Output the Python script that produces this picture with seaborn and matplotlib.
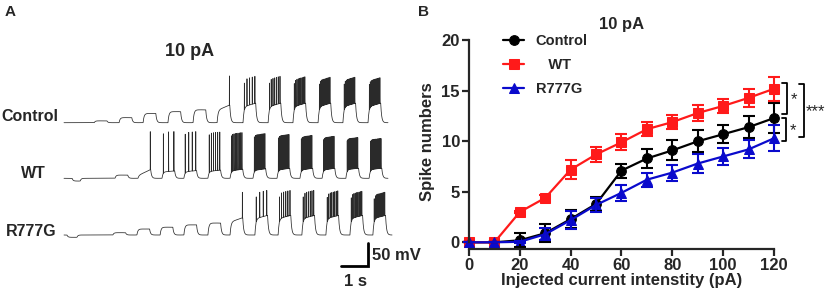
import numpy as np
import pandas as pd
import seaborn as sns
import matplotlib.pyplot as plt

# ---- panel B data (spike numbers vs injected current) ----
current = [0, 10, 20, 30, 40, 50, 60, 70, 80, 90, 100, 110, 120]
ctrl_mean = [0, 0, 0.2, 0.9, 2.3, 3.8, 7.1, 8.3, 9.1, 10.0, 10.7, 11.4, 12.3]
ctrl_sem = [0, 0, 0.7, 0.9, 0.9, 0.7, 0.7, 0.9, 1.0, 1.1, 0.9, 1.1, 1.5]
wt_mean = [0, 0, 3.0, 4.4, 7.2, 8.7, 9.9, 11.2, 11.9, 12.8, 13.5, 14.3, 15.2]
wt_sem = [0, 0, 0.1, 0.3, 0.9, 0.7, 0.8, 0.7, 0.7, 0.8, 0.7, 0.9, 1.2]
mut_mean = [0, 0, 0.05, 0.8, 2.2, 3.7, 4.9, 6.2, 6.9, 7.8, 8.5, 9.2, 10.3]
mut_sem = [0, 0, 0.1, 0.6, 0.9, 0.7, 0.8, 0.7, 0.8, 0.9, 0.8, 0.9, 1.3]

# ---- panel A data (example traces, 10 pA steps) ----
# step onsets (s), level at step start / end (mV above rest), spike count, spike peak (mV)
ctrl_onset = [1.12, 2.04, 2.93, 3.85, 4.78, 5.67, 6.63, 7.56, 8.48, 9.41, 10.33, 11.26]
ctrl_lvl0 = [4, 11, 20, 24, 28, 28, 35, 35, 35, 35, 35, 35]
ctrl_lvl1 = [4, 11, 20, 24, 28, 39, 43, 43, 43, 43, 43, 43]
ctrl_spk = [0, 0, 0, 0, 0, 1, 5, 7, 9, 10, 11, 12]
ctrl_peak = [0, 0, 0, 0, 0, 103, 102, 102, 101, 100, 100, 99]

wt_onset = [1.89, 2.74, 3.63, 4.44, 5.33, 6.15, 7.00, 7.89, 8.74, 9.56, 10.44, 11.30]
wt_lvl0 = [7, 7, 14, 14, 15, 16, 17, 18, 18, 18, 19, 19]
wt_lvl1 = [7, 20, 16, 17, 18, 20, 21, 22, 22, 22, 22, 22]
wt_spk = [0, 1, 3, 4, 6, 9, 10, 11, 12, 13, 14, 15]
wt_peak = [0, 103, 102, 102, 101, 100, 98, 96, 94, 92, 89, 87]

mut_onset = [1.81, 2.70, 3.56, 4.44, 5.33, 6.15, 7.07, 7.93, 8.81, 9.70, 10.59, 11.44]
mut_lvl0 = [5, 13, 17, 22, 26, 29, 36, 36, 36, 36, 36, 36]
mut_lvl1 = [5, 13, 17, 22, 26, 38, 43, 43, 43, 43, 43, 43]
mut_spk = [0, 0, 0, 0, 0, 1, 4, 6, 7, 8, 9, 10]
mut_peak = [0, 0, 0, 0, 0, 94, 98, 98, 98, 97, 96, 94]

# small hyperpolarising pre-pulse: (start s, end s, mV)
ctrl_pre = (0.0, 0.0, 0)
wt_pre = (0.30, 0.60, -6)
mut_pre = (0.11, 0.48, -5)

step_dur = 0.47
trace_end = [12.0, 12.0, 12.15]


def make_trace(onset, lvl0, lvl1, spk, peak, pre, t_end, dt=0.00025, tau=0.035):
    t = np.arange(0, t_end, dt)
    cmd = np.zeros_like(t)
    m = (t >= pre[0]) & (t < pre[1])
    cmd[m] = pre[2]
    for on, a, b in zip(onset, lvl0, lvl1):
        m = (t >= on) & (t < on + step_dur)
        cmd[m] = a + (b - a) * (t[m] - on) / step_dur
    v = np.zeros_like(t)
    k = dt / tau
    for i in range(1, len(t)):
        v[i] = v[i - 1] + k * (cmd[i] - v[i - 1])
    for on, n, pk, b in zip(onset, spk, peak, lvl1):
        if n == 0:
            continue
        if n == 1:
            times = [on + step_dur * 0.97]
        else:
            times = np.linspace(on + 0.05, on + step_dur - 0.03, n)
        for ts in times:
            v += (pk - b) * np.exp(-0.5 * ((t - ts) / 0.0012) ** 2)
    return t, v


fig = plt.figure(figsize=(8.29, 2.93), dpi=100)
W, H = 829, 293
sns.set_style("ticks")
plt.rcParams['font.family'] = ['Liberation Sans', 'DejaVu Sans']


def fx(px):
    return px / W


def fy(py):
    return 1 - py / H


# ---------- panel A ----------
axA = fig.add_axes([fx(40), fy(290), fx(420) - fx(40), fy(55) - fy(290)])
pxs, mvpx = 27.0, 50 / 23.0
axA.set_xlim((40 - 64) / pxs, (420 - 64) / pxs)
axA.set_ylim((122.7 - 290) * mvpx, (122.7 - 55) * mvpx)
axA.axis('off')

traces = [
    (ctrl_onset, ctrl_lvl0, ctrl_lvl1, ctrl_spk, ctrl_peak, ctrl_pre, trace_end[0], 0.0),
    (wt_onset, wt_lvl0, wt_lvl1, wt_spk, wt_peak, wt_pre, trace_end[1], -(178.3 - 122.7) * mvpx),
    (mut_onset, mut_lvl0, mut_lvl1, mut_spk, mut_peak, mut_pre, trace_end[2], -(235 - 122.7) * mvpx),
]
for on, l0, l1, sp, pk, pre, te, off in traces:
    t, v = make_trace(on, l0, l1, sp, pk, pre, te)
    sns.lineplot(x=t, y=v + off, ax=axA, color='#2a2a2a', lw=0.55, estimator=None, sort=False)

# scale bar
sb_t = (368 - 64) / pxs
sb_top = (122.7 - 243) * mvpx
sb_bot = sb_top - 50
axA.plot([sb_t - 1, sb_t, sb_t], [sb_bot, sb_bot, sb_top], color='black', lw=2, clip_on=False,
         solid_joinstyle='miter')
fig.text(fx(372), fy(255), '50 mV', fontsize=12, fontweight='bold', va='center', ha='left')
fig.text(fx(356), fy(281), '1 s', fontsize=12, fontweight='bold', va='center', ha='center')

fig.text(fx(58), fy(117), 'Control', fontsize=11.5, fontweight='bold', ha='right', va='center')
fig.text(fx(46), fy(174), 'WT', fontsize=11.5, fontweight='bold', ha='right', va='center')
fig.text(fx(57), fy(231), 'R777G', fontsize=11.5, fontweight='bold', ha='right', va='center')
fig.text(fx(190), fy(52), '10 pA', fontsize=13, fontweight='bold', ha='center', va='center')
fig.text(fx(5), fy(12), 'A', fontsize=11, fontweight='bold', ha='left', va='center')
fig.text(fx(418), fy(12), 'B', fontsize=11, fontweight='bold', ha='left', va='center')

# ---------- panel B ----------
axB = fig.add_axes([fx(469), fy(242.3), fx(774) - fx(469), fy(40.3) - fy(242.3)])
groups = ['Control', 'WT', 'R777G']
colors = {'Control': 'black', 'WT': '#ff1a1a', 'R777G': '#0a0acc'}
df = pd.DataFrame({
    'current': current * 3,
    'spikes': ctrl_mean + wt_mean + mut_mean,
    'group': ['Control'] * 13 + ['WT'] * 13 + ['R777G'] * 13,
})
sns.lineplot(data=df, x='current', y='spikes', hue='group', style='group',
             hue_order=groups, style_order=groups, palette=colors,
             markers={'Control': 'o', 'WT': 's', 'R777G': '^'}, dashes=False,
             markersize=7, lw=1.6, ax=axB, clip_on=False)
for line in axB.lines:
    line.set_markeredgecolor(line.get_color())
for g, m, e in zip(groups, [ctrl_mean, wt_mean, mut_mean], [ctrl_sem, wt_sem, mut_sem]):
    axB.errorbar(current, m, yerr=e, fmt='none', ecolor=colors[g], elinewidth=1.5,
                 capsize=4, capthick=1.5, clip_on=False)

axB.set_xlim(0, 120)
axB.set_ylim(0, 20)
axB.set_xticks(range(0, 121, 20))
axB.set_yticks([0, 5, 10, 15, 20])
sns.despine(ax=axB)
axB.spines['bottom'].set_position(('outward', 5))
for s in ['left', 'bottom']:
    axB.spines[s].set_linewidth(1.6)
axB.tick_params(width=1.6, length=5, labelsize=12, pad=1.5)
for lab in axB.get_xticklabels() + axB.get_yticklabels():
    lab.set_fontweight('bold')
axB.set_xlabel('Injected current intenstity (pA)', fontsize=12, fontweight='bold', labelpad=0)
axB.set_ylabel('Spike numbers', fontsize=12, fontweight='bold', labelpad=5)
axB.set_title('10 pA', fontsize=12, fontweight='bold', pad=8)

handles, labels = axB.get_legend_handles_labels()
for h in handles:
    h.set_markeredgecolor(h.get_color())
leg = axB.legend(handles, ['Control', '   WT', 'R777G'], loc='upper left',
                 bbox_to_anchor=(0.1115, 1.03), frameon=False, borderaxespad=0, borderpad=0,
                 handlelength=1.45, handletextpad=0.8, labelspacing=0.68,
                 prop={'size': 10.5, 'weight': 'bold'})

# significance brackets
br = dict(color='black', lw=1.3, clip_on=False)
axB.plot([123.1, 125.1, 125.1, 123.1], [15.75, 15.75, 12.68, 12.68], **br)
axB.plot([123.1, 124.7, 124.7, 123.1], [12.29, 12.29, 10.0, 10.0], **br)
axB.plot([129.8, 131.8, 131.8, 129.8], [15.7, 15.7, 10.4, 10.4], **br)
axB.text(126.4, 14.1, '*', fontsize=12, ha='left', va='center')
axB.text(126.1, 11.1, '*', fontsize=12, ha='left', va='center')
axB.text(132.4, 12.9, '***', fontsize=12, ha='left', va='center')

fig.savefig('out.png', dpi=100)
